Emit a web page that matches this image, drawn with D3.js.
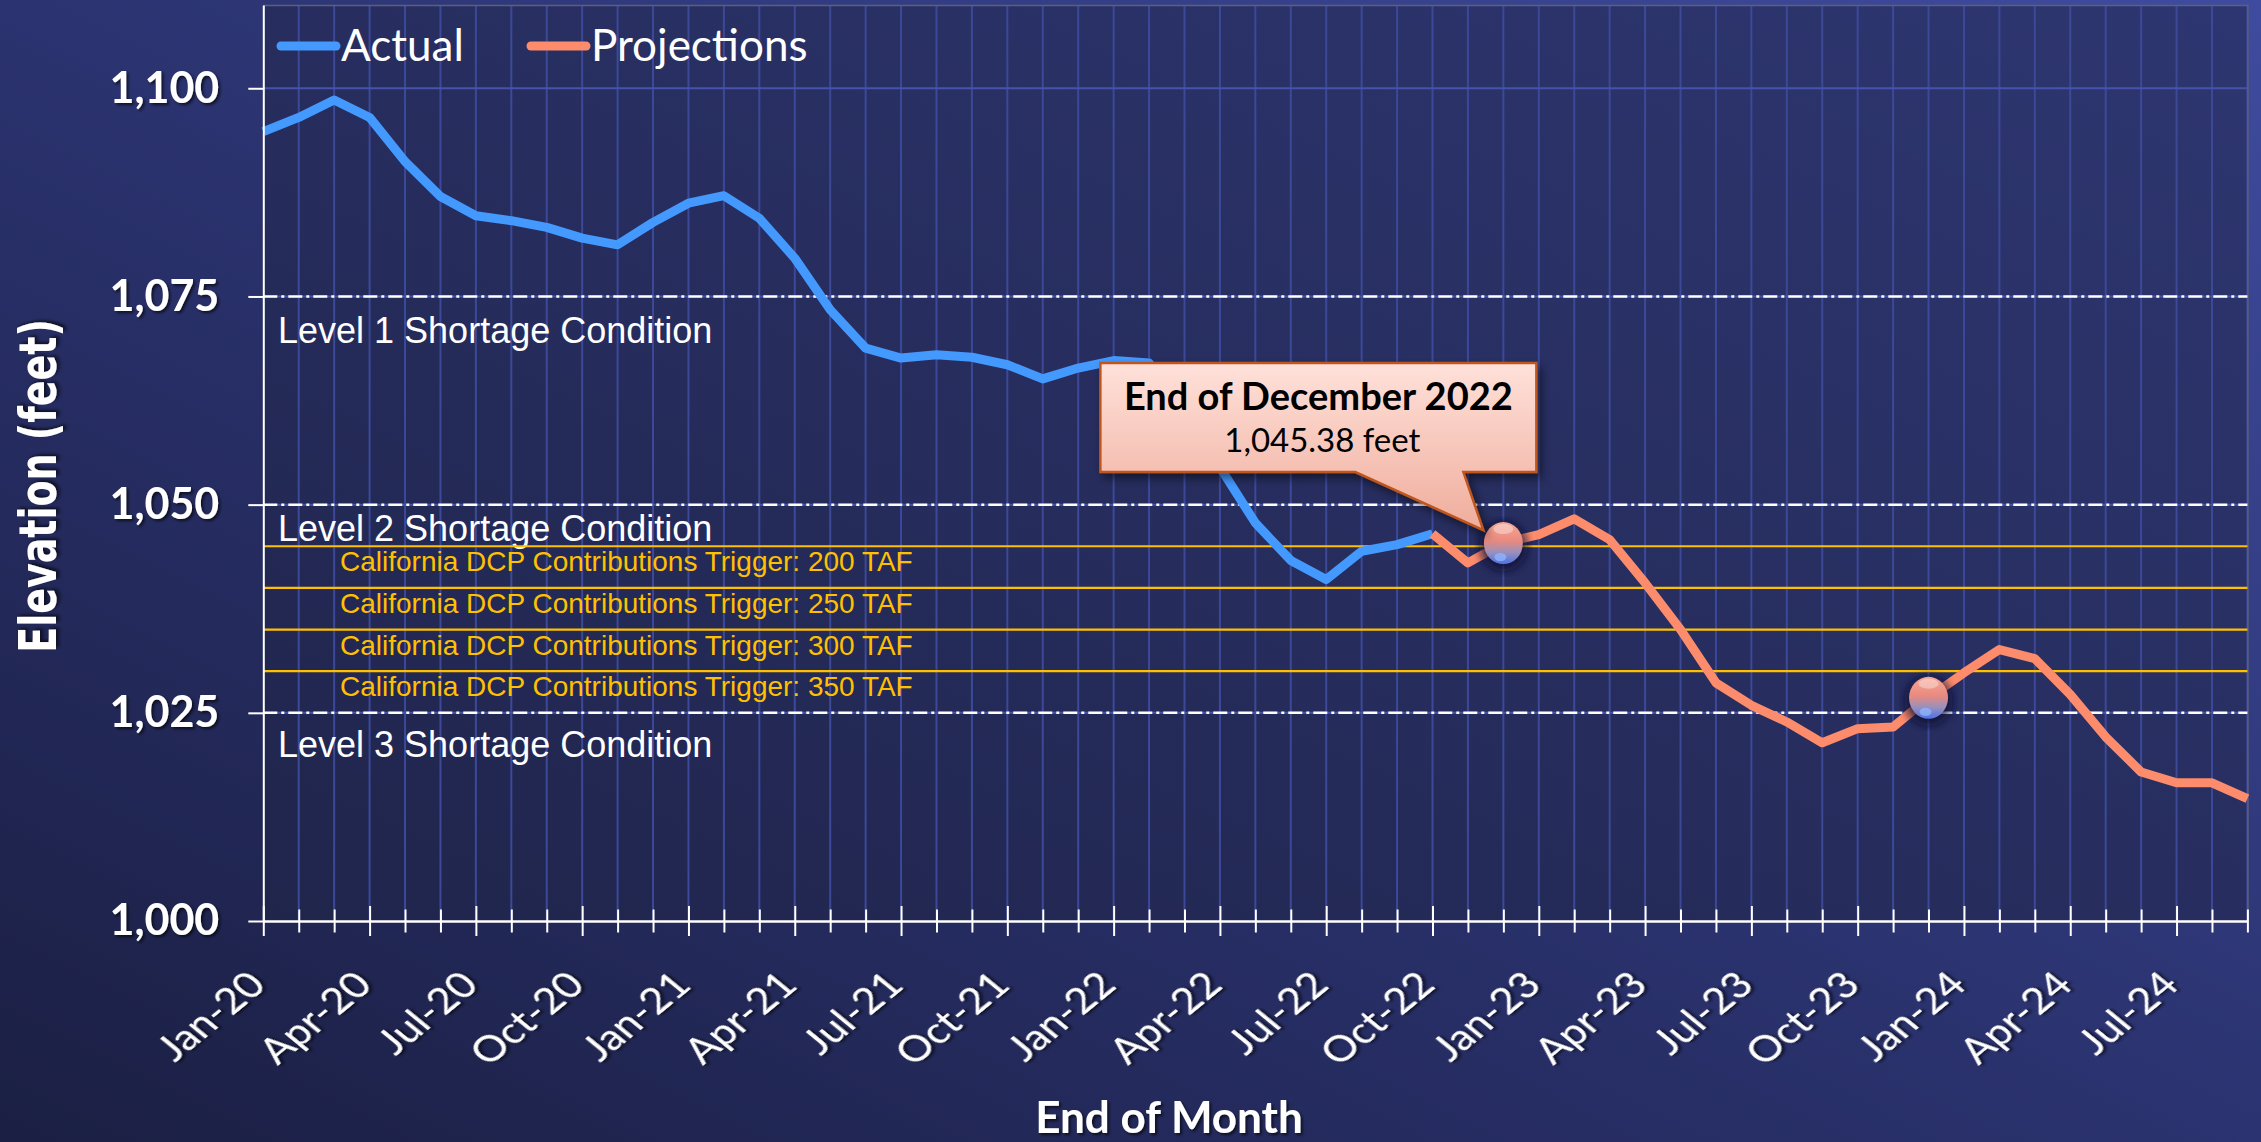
<!DOCTYPE html>
<html>
<head>
<meta charset="utf-8">
<script src="https://cdn.jsdelivr.net/npm/d3@7"></script>
<style>
html, body { margin: 0; padding: 0; background: #1d2145; overflow: hidden; }
</style>
</head>
<body>
<script>
// categories (end of month)
var months = [
  "Jan-20","Feb-20","Mar-20","Apr-20","May-20","Jun-20","Jul-20","Aug-20","Sep-20","Oct-20","Nov-20","Dec-20",
  "Jan-21","Feb-21","Mar-21","Apr-21","May-21","Jun-21","Jul-21","Aug-21","Sep-21","Oct-21","Nov-21","Dec-21",
  "Jan-22","Feb-22","Mar-22","Apr-22","May-22","Jun-22","Jul-22","Aug-22","Sep-22","Oct-22","Nov-22","Dec-22",
  "Jan-23","Feb-23","Mar-23","Apr-23","May-23","Jun-23","Jul-23","Aug-23","Sep-23","Oct-23","Nov-23","Dec-23",
  "Jan-24","Feb-24","Mar-24","Apr-24","May-24","Jun-24","Jul-24","Aug-24","Sep-24"
];

// elevations in feet, Actual from Jan-20, Projections from Oct-22
var actual = [
  1094.8, 1096.5, 1098.6, 1096.5, 1091.2, 1087.0, 1084.7, 1084.1, 1083.3, 1082.0, 1081.2, 1083.9,
  1086.2, 1087.1, 1084.4, 1079.6, 1073.4, 1068.8, 1067.6, 1068.0, 1067.7, 1066.8, 1065.1, 1066.4,
  1067.3, 1067.0, 1061.5, 1054.5, 1047.8, 1043.3, 1041.0, 1044.4, 1045.2, 1046.5
];
var projectionStart = "Oct-22";
var projections = [
  1046.5, 1043.0, 1045.38,
  1046.4, 1048.3, 1045.8, 1040.6, 1035.0, 1028.6, 1025.9, 1023.9, 1021.4, 1023.1, 1023.3, 1026.8,
  1029.8, 1032.6, 1031.5, 1027.2, 1022.1, 1017.9, 1016.6, 1016.6, 1014.7
];
var seriesNames = ["Actual", "Projections"];

var yTicks = [1000, 1025, 1050, 1075, 1100];

var shortageLevels = [1075, 1050, 1025];
var shortageLabels = ["Level 1 Shortage Condition", "Level 2 Shortage Condition", "Level 3 Shortage Condition"];

var dcpTriggers = [1045, 1040, 1035, 1030];
var dcpLabels = [
  "California DCP Contributions Trigger: 200 TAF",
  "California DCP Contributions Trigger: 250 TAF",
  "California DCP Contributions Trigger: 300 TAF",
  "California DCP Contributions Trigger: 350 TAF"
];

var markerMonths = ["Dec-22", "Dec-23"];
var calloutMonth = "Dec-22";
var calloutTitle = "End of December 2022";
var calloutText = "1,045.38 feet";

// sizes
var W = 2261, H = 1142;
var plotLeft = 263.3, plotRight = 2247.4, plotTop = 5, plotBottom = 921;

var colors = { actual: "#4499ff", proj: "#fc8c6c", grid: "#3c4999", dcp: "#ffc000" };

var x = d3.scalePoint().domain(months).range([plotLeft, plotRight]);
var y = d3.scaleLinear().domain([1000, 1110]).range([plotBottom, plotTop]);

var svg = d3.select("body").append("svg")
    .attr("width", W)
    .attr("height", H);

var defs = svg.append("defs");

var bg = defs.append("linearGradient").attr("id", "bg")
    .attr("x1", 0).attr("y1", 1).attr("x2", 1).attr("y2", 0);
bg.append("stop").attr("offset", 0).attr("stop-color", "#1b1f43");
bg.append("stop").attr("offset", 0.5).attr("stop-color", "#2b3370");
bg.append("stop").attr("offset", 1).attr("stop-color", "#3f4b9e");

var pg = defs.append("linearGradient").attr("id", "plotbg")
    .attr("x1", 0).attr("y1", 1).attr("x2", 1).attr("y2", 0);
pg.append("stop").attr("offset", 0).attr("stop-color", "#20254c");
pg.append("stop").attr("offset", 1).attr("stop-color", "#2e3671");

var cg = defs.append("linearGradient").attr("id", "callout")
    .attr("x1", 0).attr("y1", 0).attr("x2", 0).attr("y2", 1);
cg.append("stop").attr("offset", 0).attr("stop-color", "#ffe1da");
cg.append("stop").attr("offset", 1).attr("stop-color", "#efad9c");

var mg = defs.append("linearGradient").attr("id", "ball")
    .attr("x1", 0).attr("y1", 0).attr("x2", 0).attr("y2", 1);
mg.append("stop").attr("offset", 0).attr("stop-color", "#f6a898");
mg.append("stop").attr("offset", 0.45).attr("stop-color", "#e98a7e");
mg.append("stop").attr("offset", 0.72).attr("stop-color", "#9a90bc");
mg.append("stop").attr("offset", 1).attr("stop-color", "#4f72e6");

var ts = defs.append("filter").attr("id", "ts")
    .attr("x", "-10%").attr("y", "-10%").attr("width", "130%").attr("height", "130%");
ts.append("feDropShadow").attr("dx", 2).attr("dy", 2).attr("stdDeviation", 1.5)
    .attr("flood-color", "#000").attr("flood-opacity", 0.65);

var sh = defs.append("filter").attr("id", "shadow")
    .attr("x", "-20%").attr("y", "-20%").attr("width", "150%").attr("height", "150%");
sh.append("feDropShadow").attr("dx", 4).attr("dy", 5).attr("stdDeviation", 5)
    .attr("flood-color", "#000").attr("flood-opacity", 0.5);

var blur = defs.append("filter").attr("id", "blur");
blur.append("feGaussianBlur").attr("stdDeviation", 4);

// background and plot area
svg.append("rect").attr("width", W).attr("height", H).attr("fill", "url(#bg)");
svg.append("rect")
    .attr("x", plotLeft).attr("y", plotTop)
    .attr("width", plotRight - plotLeft).attr("height", plotBottom - plotTop)
    .attr("fill", "url(#plotbg)");

// vertical gridlines
svg.append("g").selectAll("line")
    .data(months.slice(1))
    .join("line")
    .attr("x1", d => x(d)).attr("x2", d => x(d))
    .attr("y1", plotTop).attr("y2", plotBottom)
    .attr("stroke", colors.grid)
    .attr("stroke-width", 2);

// horizontal gridlines
svg.append("g").selectAll("line")
    .data(yTicks.slice(1))
    .join("line")
    .attr("x1", plotLeft).attr("x2", plotRight)
    .attr("y1", d => y(d)).attr("y2", d => y(d))
    .attr("stroke", "#4553aa")
    .attr("stroke-width", 2);

// plot border
svg.append("path")
    .attr("d", "M" + plotLeft + "," + (plotTop + 0.5) + "H" + (plotRight + 0.5) + "V" + plotBottom)
    .attr("fill", "none")
    .attr("stroke", "#5d6079")
    .attr("stroke-width", 1.5);

// shortage levels
svg.append("g").selectAll("line")
    .data(shortageLevels)
    .join("line")
    .attr("x1", plotLeft).attr("x2", plotRight)
    .attr("y1", d => y(d)).attr("y2", d => y(d))
    .attr("stroke", "#ffffff")
    .attr("stroke-width", 2.5)
    .attr("stroke-dasharray", "14,4,3,4");

var shortageOffsets = [47, 36, 44];
svg.append("g").selectAll("text")
    .data(shortageLevels)
    .join("text")
    .attr("x", 278)
    .attr("y", (d, i) => y(d) + shortageOffsets[i])
    .attr("fill", "#ffffff")
    .style("font-family", "'Liberation Sans', Arial, sans-serif")
    .style("font-size", "36px")
    .text((d, i) => shortageLabels[i]);

// DCP triggers
svg.append("g").selectAll("line")
    .data(dcpTriggers)
    .join("line")
    .attr("x1", plotLeft).attr("x2", plotRight)
    .attr("y1", d => y(d)).attr("y2", d => y(d))
    .attr("stroke", colors.dcp)
    .attr("stroke-width", 2.2);

svg.append("g").selectAll("text")
    .data(dcpTriggers)
    .join("text")
    .attr("x", 340)
    .attr("y", d => y(d) + 25)
    .attr("fill", colors.dcp)
    .style("font-family", "'Liberation Sans', Arial, sans-serif")
    .style("font-size", "28px")
    .text((d, i) => dcpLabels[i]);

// series
var ps = months.indexOf(projectionStart);
var actualData = actual.map((v, i) => ({ month: months[i], value: v }));
var projData = projections.map((v, i) => ({ month: months[ps + i], value: v }));

var line = d3.line()
    .x(d => x(d.month))
    .y(d => y(d.value));

svg.append("path")
    .datum(actualData)
    .attr("d", line)
    .attr("fill", "none")
    .attr("stroke", colors.actual)
    .attr("stroke-width", 9)
    .attr("stroke-linejoin", "round");

svg.append("path")
    .datum(projData)
    .attr("d", line)
    .attr("fill", "none")
    .attr("stroke", colors.proj)
    .attr("stroke-width", 9)
    .attr("stroke-linejoin", "round");

// glossy markers
var markers = svg.append("g").selectAll("g")
    .data(markerMonths)
    .join("g")
    .attr("transform", d => "translate(" + x(d) + "," + y(projections[months.indexOf(d) - ps]) + ")");
markers.append("ellipse").attr("rx", 24).attr("ry", 25).attr("cy", 3)
    .attr("fill", "#0a0f30").attr("opacity", 0.75).attr("filter", "url(#blur)");
markers.append("ellipse").attr("rx", 19.5).attr("ry", 21).attr("fill", "url(#ball)");
markers.append("ellipse").attr("rx", 10).attr("ry", 5).attr("cy", -14)
    .attr("fill", "#ffffff").attr("opacity", 0.35);
markers.append("ellipse").attr("rx", 6).attr("ry", 4).attr("cx", -3).attr("cy", 14)
    .attr("fill", "#8fb4ff").attr("opacity", 0.8);

// callout
var cx = x(calloutMonth), cy = y(projections[months.indexOf(calloutMonth) - ps]);
var bl = cx - 403, br = cx + 33, bt = cy - 180, bb = cy - 71;
svg.append("path")
    .attr("d", "M" + bl + "," + bt + "H" + br + "V" + bb + "H" + (cx - 40) +
        "L" + (cx - 20) + "," + (cy - 13) + "L" + (cx - 148) + "," + bb + "H" + bl + "Z")
    .attr("fill", "url(#callout)")
    .attr("stroke", "#c0561e")
    .attr("stroke-width", 2.5)
    .attr("filter", "url(#shadow)");
svg.append("text")
    .attr("x", (bl + br) / 2).attr("y", cy - 133)
    .attr("text-anchor", "middle")
    .attr("fill", "#000")
    .style("font-family", "Lato, sans-serif")
    .style("font-weight", "bold")
    .style("font-size", "38px")
    .text(calloutTitle);
svg.append("text")
    .attr("x", (bl + br) / 2 + 4).attr("y", cy - 91)
    .attr("text-anchor", "middle")
    .attr("fill", "#000")
    .style("font-family", "Lato, sans-serif")
    .style("font-size", "33px")
    .text(calloutText);

// axes
var yAxis = svg.append("g")
    .attr("transform", "translate(" + plotLeft + ",0)")
    .call(d3.axisLeft(y).tickValues(yTicks).tickFormat(d3.format(",")).tickSize(15).tickSizeOuter(0).tickPadding(29));
yAxis.select(".domain").attr("stroke", "#fff").attr("stroke-width", 2);
yAxis.selectAll(".tick line").attr("stroke", "#fff").attr("stroke-width", 2);
yAxis.selectAll(".tick text")
    .attr("fill", "#fff")
    .attr("filter", "url(#ts)")
    .style("font-family", "Lato, sans-serif")
    .style("font-weight", "bold")
    .style("font-size", "43px");

var xAxis = svg.append("g")
    .attr("transform", "translate(0," + plotBottom + ")")
    .call(d3.axisBottom(x).tickSizeOuter(0).tickFormat((d, i) => i % 3 === 0 ? d : ""));
xAxis.select(".domain").attr("stroke", "#fff").attr("stroke-width", 2.5);
xAxis.selectAll(".tick line")
    .attr("stroke", "#fff")
    .attr("stroke-width", 2)
    .attr("y1", (d, i) => i % 3 === 0 ? -15 : -11.5)
    .attr("y2", (d, i) => i % 3 === 0 ? 15 : 11.5);
xAxis.selectAll(".tick text")
    .attr("x", 0).attr("y", 0).attr("dy", 0)
    .attr("text-anchor", "end")
    .attr("transform", "translate(4,66) scale(1.22,1) rotate(-45)")
    .attr("fill", "#fff")
    .attr("filter", "url(#ts)")
    .style("font-family", "Lato, sans-serif")
    .style("font-size", "36px");

// axis titles
svg.append("text")
    .attr("transform", "translate(56,486) scale(1.35,1) rotate(-90)")
    .attr("text-anchor", "middle")
    .attr("fill", "#fff")
    .attr("filter", "url(#ts)")
    .style("font-family", "'DejaVu Sans', Verdana, sans-serif")
    .style("font-weight", "bold")
    .style("font-size", "38px")
    .text("Elevation (feet)");

svg.append("text")
    .attr("x", 1169).attr("y", 1133)
    .attr("text-anchor", "middle")
    .attr("fill", "#fff")
    .attr("filter", "url(#ts)")
    .style("font-family", "Lato, sans-serif")
    .style("font-weight", "bold")
    .style("font-size", "44px")
    .text("End of Month");

// legend
var legendX = [281, 531];
var legend = svg.append("g").selectAll("g")
    .data(seriesNames)
    .join("g")
    .attr("transform", (d, i) => "translate(" + legendX[i] + ",0)");
legend.append("line")
    .attr("x1", 0).attr("x2", 55)
    .attr("y1", 46).attr("y2", 46)
    .attr("stroke", (d, i) => i === 0 ? colors.actual : colors.proj)
    .attr("stroke-width", 9)
    .attr("stroke-linecap", "round");
legend.append("text")
    .attr("x", 60).attr("y", 61)
    .attr("fill", "#fff")
    .style("font-family", "Lato, sans-serif")
    .style("font-size", "44px")
    .text(d => d);
</script>
</body>
</html>
